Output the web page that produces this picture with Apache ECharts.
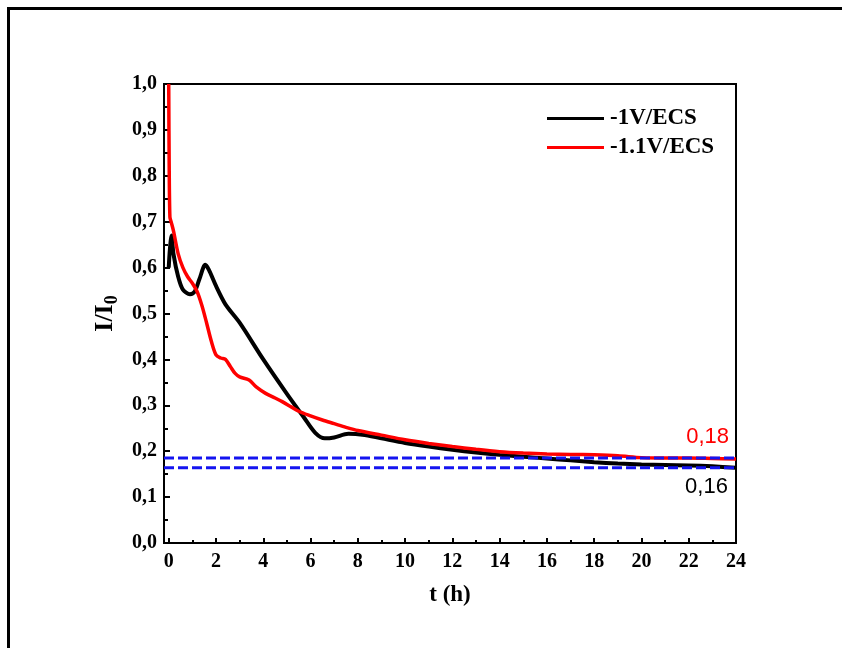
<!DOCTYPE html>
<html>
<head>
<meta charset="utf-8">
<script src="https://cdn.jsdelivr.net/npm/echarts@6/dist/echarts.min.js"></script>
<style>
html,body{margin:0;padding:0;background:#fff;}
#chart{width:842px;height:648px;}
</style>
</head>
<body>
<div id="chart"></div>
<script>
// ---- data ----
const seriesNames = ['-1V/ECS', '-1.1V/ECS'];
const blackT = [0,0.05,0.12,0.2,0.4,0.6,0.9,1.1,1.3,1.55,1.7,2.0,2.4,3,4,5,5.7,6.2,6.6,7,7.6,8.2,9,10,11,12,13,14,15,16,17,18,19,20,21,22,23,24];
const blackV = [0.60,0.64,0.67,0.63,0.58,0.552,0.542,0.548,0.575,0.606,0.595,0.56,0.52,0.48,0.40,0.325,0.275,0.24,0.228,0.23,0.238,0.236,0.228,0.218,0.21,0.203,0.197,0.192,0.188,0.184,0.18,0.176,0.173,0.171,0.17,0.169,0.167,0.164];
const redT = [0,0.02,0.05,0.1,0.2,0.4,0.6,0.8,1.0,1.2,1.4,1.6,1.8,2.0,2.2,2.4,2.6,2.8,3.0,3.4,3.7,4.1,4.5,4.8,5.2,5.5,6,6.5,7,7.5,8,9,10,11,12,13,14,15,16,17,18,19,20,21,22,23,24];
const redV = [1.0,0.82,0.71,0.70,0.68,0.63,0.60,0.58,0.566,0.548,0.518,0.48,0.44,0.41,0.403,0.40,0.385,0.37,0.362,0.355,0.34,0.326,0.316,0.308,0.296,0.287,0.277,0.268,0.26,0.252,0.245,0.235,0.225,0.217,0.21,0.204,0.199,0.196,0.194,0.193,0.192,0.19,0.186,0.185,0.185,0.184,0.183];
const refLevels = [0.185, 0.164];
const refLabels = ['0,18', '0,16'];
const refLabelPos = [[22.8, 0.231], [22.75, 0.122]];
const xTicks = [0,2,4,6,8,10,12,14,16,18,20,22,24];
const xMinorTicks = [1,3,5,7,9,11,13,15,17,19,21,23];
const xRange = [-0.2, 24];
const yRange = [0, 1];

// ---- build ----
const serif = '"Liberation Serif","Times New Roman",serif';
const zip = (a, b) => a.map((v, i) => [v, b[i]]);
const chart = echarts.init(document.getElementById('chart'));
const refSeries = refLevels.map((lv, i) => ({
  type: 'line', symbol: 'none', silent: true, z: 4,
  data: [[xRange[0], lv], [xRange[1], lv]],
  lineStyle: { color: '#1414f0', width: 3, type: [10, 4] },
  markPoint: {
    symbol: 'circle', symbolSize: 0,
    data: [{ coord: refLabelPos[i] }],
    label: {
      show: true, formatter: refLabels[i], position: 'inside',
      color: i === 0 ? '#ff0000' : '#000', fontSize: 22,
      fontFamily: '"Liberation Sans", Arial, sans-serif'
    }
  }
}));
chart.setOption({
  animation: false,
  backgroundColor: '#fff',
  grid: { left: 164, top: 84, right: 106, bottom: 105, show: true, borderColor: '#000', borderWidth: 2, backgroundColor: 'transparent' },
  legend: {
    data: seriesNames.map(n => ({ name: n, icon: 'rect' })),
    orient: 'vertical', left: 542, top: 102,
    itemWidth: 57, itemHeight: 3, itemGap: 6,
    textStyle: { fontFamily: serif, fontWeight: 'bold', fontSize: 23, color: '#000', padding: [0, 0, 0, 1] }
  },
  xAxis: [{
    type: 'value', min: xRange[0], max: xRange[1],
    name: 't (h)', nameLocation: 'middle', nameGap: 41,
    nameTextStyle: { fontFamily: serif, fontWeight: 'bold', fontSize: 23, color: '#000' },
    axisLine: { show: true, onZero: false, lineStyle: { color: '#000', width: 2 } },
    axisTick: { show: true, inside: true, length: 5, customValues: xTicks, lineStyle: { color: '#000', width: 2 } },
    axisLabel: { customValues: xTicks, margin: 9, fontFamily: serif, fontWeight: 'bold', fontSize: 20, color: '#000' },
    splitLine: { show: false }
  }, {
    type: 'value', min: xRange[0], max: xRange[1], position: 'bottom',
    axisLine: { show: false },
    axisTick: { show: true, inside: true, length: 3, customValues: xMinorTicks, lineStyle: { color: '#000', width: 2 } },
    axisLabel: { show: false },
    splitLine: { show: false }
  }],
  yAxis: {
    type: 'value', min: yRange[0], max: yRange[1], interval: 0.1,
    name: '{a|I/I}{b|0}', nameLocation: 'middle', nameGap: 42, nameRotate: 90,
    nameTextStyle: {
      rich: {
        a: { fontFamily: serif, fontWeight: 'bold', fontSize: 26, color: '#000' },
        b: { fontFamily: serif, fontWeight: 'bold', fontSize: 18, color: '#000', verticalAlign: 'bottom', padding: [14, 0, 0, 0] }
      }
    },
    axisLine: { show: true, onZero: false, lineStyle: { color: '#000', width: 2 } },
    axisTick: { show: true, inside: true, length: 6, lineStyle: { color: '#000', width: 2 } },
    minorTick: { show: true, splitNumber: 2, length: 4, lineStyle: { color: '#000', width: 2 } },
    axisLabel: { margin: 7, fontFamily: serif, fontWeight: 'bold', fontSize: 20, color: '#000',
      formatter: v => v.toFixed(1).replace('.', ',') },
    splitLine: { show: false }
  },
  series: [
    { name: seriesNames[0], type: 'line', symbol: 'none', smooth: 0.3, z: 3, data: zip(blackT, blackV),
      itemStyle: { color: '#000' }, lineStyle: { color: '#000', width: 4 } },
    { name: seriesNames[1], type: 'line', symbol: 'none', smooth: 0.3, z: 3, data: zip(redT, redV),
      itemStyle: { color: '#ff0000' }, lineStyle: { color: '#ff0000', width: 3.5 } },
    ...refSeries
  ],
  graphic: [
    { type: 'polyline', shape: { points: [[8.5, 648], [8.5, 8.5], [842, 8.5]] }, style: { stroke: '#000', lineWidth: 3, fill: null } }
  ]
});
</script>
</body>
</html>
